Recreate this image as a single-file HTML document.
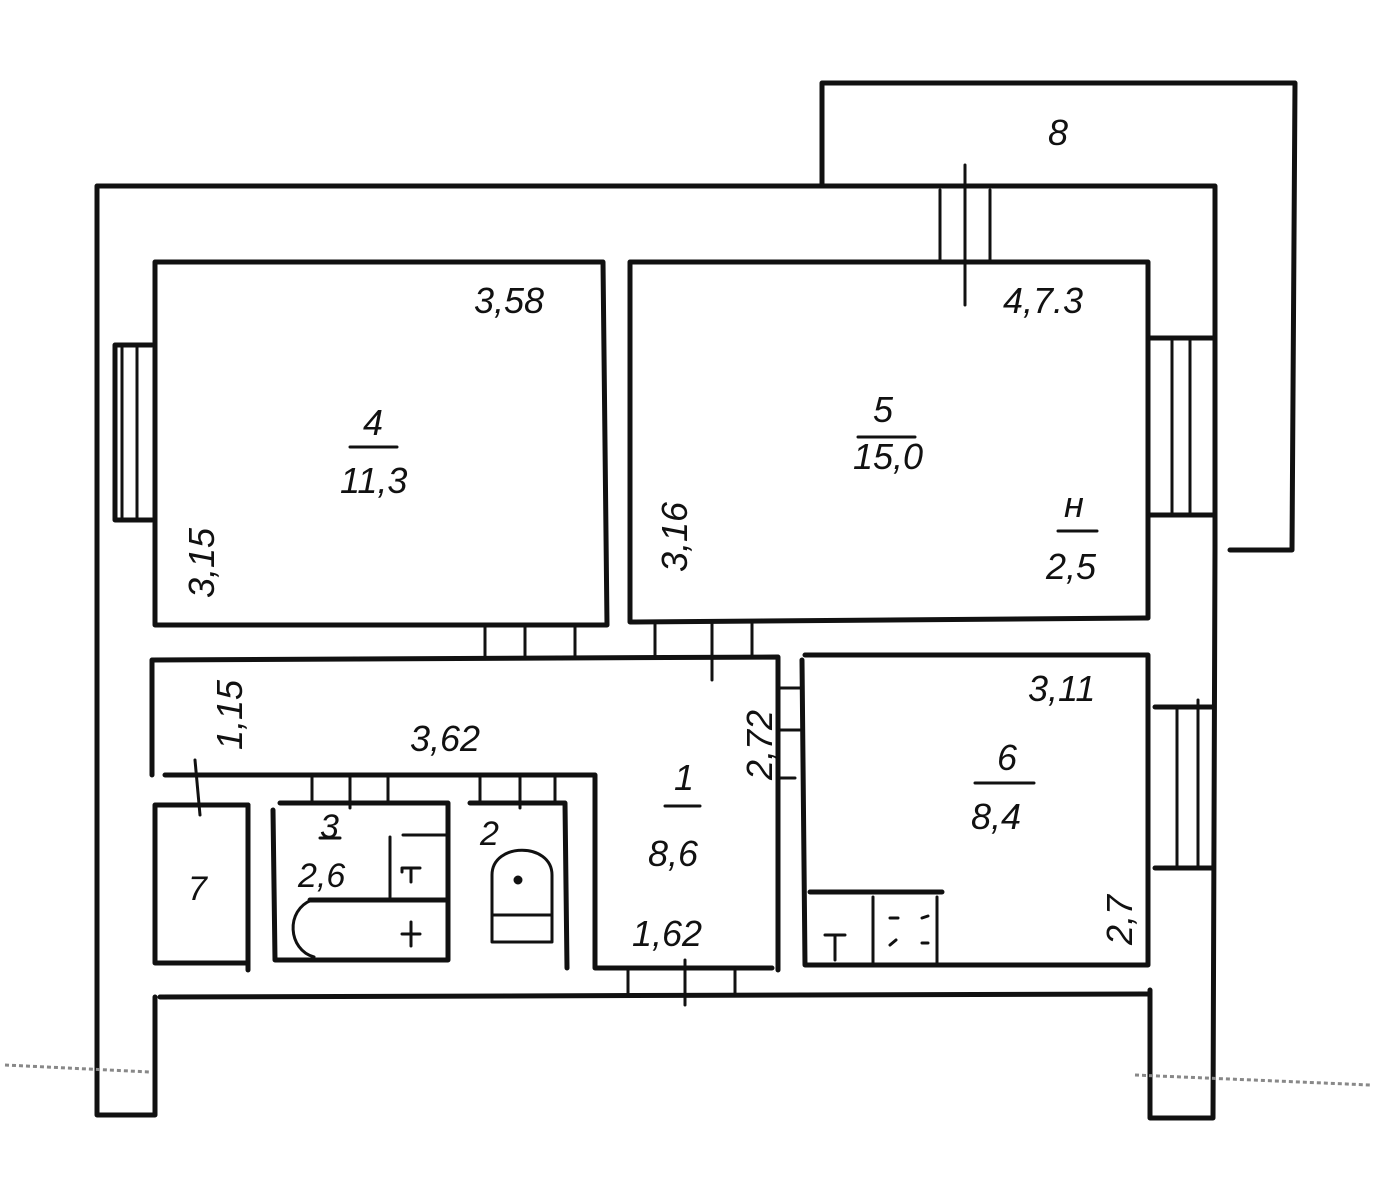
<!DOCTYPE html>
<html><head><meta charset="utf-8"><style>
html,body{margin:0;padding:0;background:#fff}
svg{display:block}
text{font-family:"Liberation Sans",sans-serif;font-style:italic;fill:#111}
</style></head><body>
<svg width="1375" height="1200" viewBox="0 0 1375 1200" xmlns="http://www.w3.org/2000/svg">
<g fill="none" stroke="#111" stroke-width="5" stroke-linecap="round" stroke-linejoin="round">
<polyline points="155,1110 155,1115 97,1115 97,186 1215,186 1215,548"/>
<polyline points="1215,548 1213,1118 1150,1118 1150,990"/>
<line x1="155" y1="997" x2="155" y2="1110"/>
<polyline points="822,186 822,83 1295,83 1292,550 1230,550"/>
<polyline points="155,262 603,262 607,625 155,625 155,262"/>
<polyline points="630,262 1148,262 1148,618 630,622 630,262"/>
<polyline points="152,345 115,345 115,520 152,520"/>
<line x1="122" y1="345" x2="122" y2="520" stroke-width="3"/>
<line x1="137" y1="345" x2="137" y2="520" stroke-width="3"/>
<line x1="940" y1="190" x2="940" y2="262" stroke-width="3"/>
<line x1="990" y1="190" x2="990" y2="262" stroke-width="3"/>
<line x1="965" y1="165" x2="965" y2="305" stroke-width="3"/>
<polyline points="1150,338 1213,338"/><polyline points="1150,515 1213,515"/>
<line x1="1172" y1="340" x2="1172" y2="515" stroke-width="3"/>
<line x1="1190" y1="340" x2="1190" y2="515" stroke-width="3"/>
<polyline points="1155,707 1213,707"/><polyline points="1155,868 1213,868"/>
<line x1="1177" y1="707" x2="1177" y2="868" stroke-width="3"/>
<line x1="1198" y1="700" x2="1198" y2="868" stroke-width="3"/>
<line x1="485" y1="625" x2="485" y2="657" stroke-width="3"/>
<line x1="525" y1="625" x2="525" y2="657" stroke-width="3"/>
<line x1="575" y1="625" x2="575" y2="657" stroke-width="3"/>
<line x1="655" y1="622" x2="655" y2="657" stroke-width="3"/>
<line x1="712" y1="622" x2="712" y2="680" stroke-width="3"/>
<line x1="752" y1="622" x2="752" y2="657" stroke-width="3"/>
<polyline points="152,775 152,660 778,657 778,970"/>
<polyline points="165,775 595,775 595,968 772,968"/>
<line x1="195" y1="760" x2="200" y2="815" stroke-width="3"/>
<rect x="155" y="805" width="93" height="158"/>
<line x1="248" y1="805" x2="248" y2="970"/>
<polyline points="280,803 448,803 448,960 275,960 273,810"/>
<line x1="312" y1="775" x2="312" y2="803" stroke-width="3"/>
<line x1="350" y1="775" x2="350" y2="808" stroke-width="3"/>
<line x1="388" y1="775" x2="388" y2="803" stroke-width="3"/>
<polyline points="390,897 390,837" stroke-width="3"/>
<line x1="403" y1="835" x2="447" y2="835" stroke-width="3"/>
<line x1="310" y1="900" x2="447" y2="900"/>
<path d="M312,900 C285,910 288,950 314,957" stroke-width="3"/>
<path d="M402,872 L402,868 L420,868 M411,868 L411,882" stroke-width="3"/>
<path d="M402,934 L420,934 M411,922 L411,946" stroke-width="3"/>
<polyline points="470,803 565,803 567,968 M467,805 467,963 560,963"/>
<line x1="480" y1="775" x2="480" y2="803" stroke-width="3"/>
<line x1="520" y1="775" x2="520" y2="808" stroke-width="3"/>
<line x1="555" y1="775" x2="555" y2="803" stroke-width="3"/>
<path d="M492,942 L492,875 C492,842 552,842 552,875 L552,942 Z" stroke-width="3"/>
<line x1="492" y1="915" x2="552" y2="915" stroke-width="3"/>
<circle cx="518" cy="880" r="2" fill="#111"/>
<line x1="160" y1="997" x2="1148" y2="994"/>
<line x1="628" y1="968" x2="628" y2="995" stroke-width="3"/>
<line x1="685" y1="960" x2="685" y2="1005" stroke-width="3"/>
<line x1="735" y1="968" x2="735" y2="995" stroke-width="3"/>
<polyline points="805,655 1148,655 1148,965 805,965 802,660"/>
<polyline points="780,688 800,688" stroke-width="3"/>
<polyline points="780,730 800,730" stroke-width="3"/>
<polyline points="780,778 795,778" stroke-width="3"/>
<line x1="810" y1="892" x2="942" y2="892"/>
<line x1="873" y1="897" x2="873" y2="965" stroke-width="3"/>
<line x1="937" y1="897" x2="937" y2="965" stroke-width="3"/>
<path d="M825,935 L845,935 M835,935 L835,960" stroke-width="3"/>
<path d="M890,918 L898,918 M922,918 L928,916 M890,945 L896,940 M922,943 L928,943" stroke-width="3"/>
<line x1="350" y1="447" x2="397" y2="447" stroke-width="3"/>
<line x1="858" y1="437" x2="915" y2="437" stroke-width="3"/>
<line x1="1058" y1="531" x2="1097" y2="531" stroke-width="3"/>
<line x1="975" y1="783" x2="1034" y2="783" stroke-width="3"/>
<line x1="665" y1="806" x2="700" y2="806" stroke-width="3"/>
<line x1="320" y1="838" x2="340" y2="838" stroke-width="3"/>
</g>
<path d="M5,1065 L150,1072 M1135,1075 L1370,1085" stroke="#888" stroke-width="3" stroke-dasharray="4 3" fill="none"/>
<g font-size="36">
<text x="1048" y="145">8</text>
<text x="474" y="313">3,58</text>
<text x="1003" y="313">4,7.3</text>
<text x="363" y="435">4</text>
<text x="340" y="493">11,3</text>
<text x="873" y="422">5</text>
<text x="853" y="469">15,0</text>
<text x="1064" y="517">н</text>
<text x="1046" y="579">2,5</text>
<text x="1028" y="701">3,11</text>
<text x="997" y="770">6</text>
<text x="971" y="829">8,4</text>
<text x="410" y="751">3,62</text>
<text x="674" y="790">1</text>
<text x="648" y="866">8,6</text>
<text x="632" y="946">1,62</text>
<text x="320" y="838" font-size="34">3</text>
<text x="298" y="887" font-size="34">2,6</text>
<text x="480" y="845" font-size="34">2</text>
<text x="188" y="900" font-size="34">7</text>
<text transform="translate(214,598) rotate(-90)">3,15</text>
<text transform="translate(687,572) rotate(-90)">3,16</text>
<text transform="translate(242,750) rotate(-90)">1,15</text>
<text transform="translate(772,780) rotate(-90)">2,72</text>
<text transform="translate(1132,945) rotate(-90)">2,7</text>
</g>
</svg>
</body></html>
